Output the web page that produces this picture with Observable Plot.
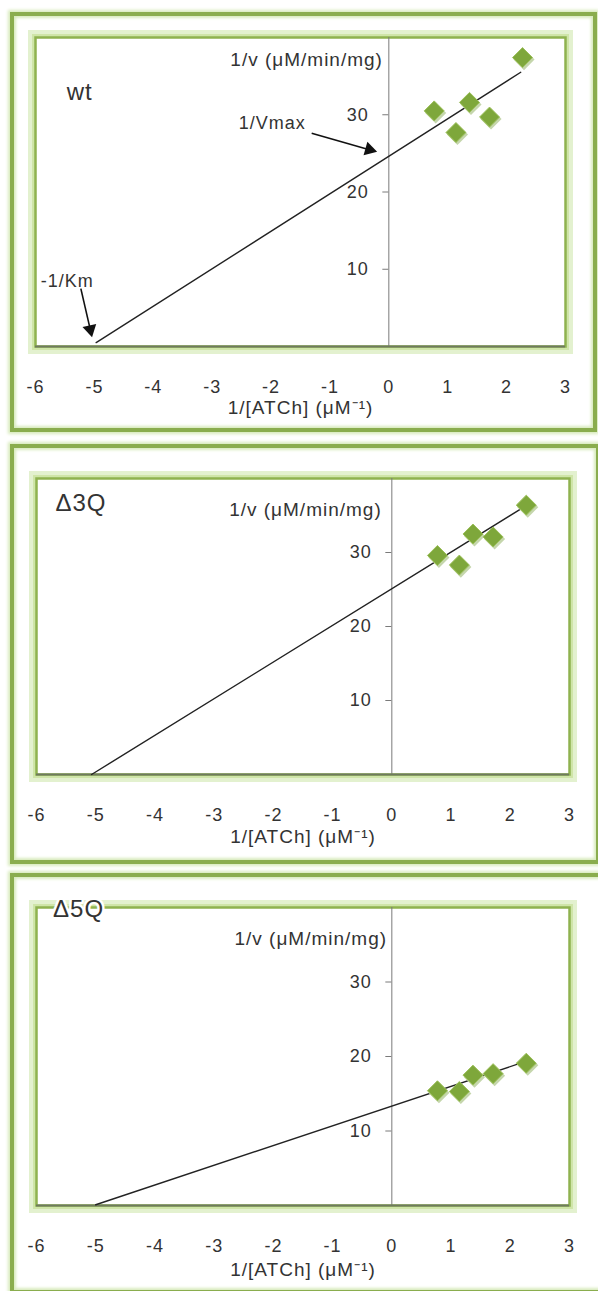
<!DOCTYPE html>
<html>
<head>
<meta charset="utf-8">
<script src="https://cdn.jsdelivr.net/npm/d3@7"></script>
<script src="https://cdn.jsdelivr.net/npm/@observablehq/plot@0.6"></script>
<style>
  body { margin: 0; width: 598px; height: 1291px; position: relative; overflow: hidden; background: #fff; }
  .frame { position: absolute; box-sizing: border-box; border: 4px solid #8aad4e;
           box-shadow: 0 0 3px 2px #d8ebbd, inset 0 0 3px 2px #d8ebbd; }
  .panel { position: absolute; left: 0; }
</style>
</head>
<body>
<div class="frame" style="left:10px;top:12px;width:587px;height:420px"></div>
<div class="frame" style="left:10px;top:444px;width:590px;height:420px"></div>
<div class="frame" style="left:10px;top:873px;width:600px;height:421px"></div>
<div id="p1" class="panel" style="top:0px"></div>
<div id="p2" class="panel" style="top:440px"></div>
<div id="p3" class="panel" style="top:870px"></div>
<script>
// ---- data ----
const xTicks = [-6, -5, -4, -3, -2, -1, 0, 1, 2, 3];
const yTicks = [10, 20, 30];
const invSubstrate = [0.77, 1.14, 1.37, 1.71, 2.27];        // 1/[ATCh]
const wtInvV  = [30.5, 27.7, 31.6, 29.7, 37.4];
const d3qInvV = [29.6, 28.3, 32.5, 32.1, 36.4];
const d5qInvV = [15.4, 15.3, 17.5, 17.7, 19.1];
const wtFitX  = [-4.97, 2.24], wtFitY  = [0.5, 35.5];
const d3qFitX = [-5.07, 2.18], d3qFitY = [0.0, 35.9];
const d5qFitX = [-5.00, 2.21], d5qFitY = [0.1, 19.2];
const panelNames = ["wt", "Δ3Q", "Δ5Q"];
const panelLabelX = [-5.25, -5.25, -5.29];
const panelLabelY = [32.9, 36.6, 39.7];
const yLabelX = [-0.10, -0.17, -0.08];
const yLabelY = [37.1, 35.7, 35.8];
const yTitle = "1/v (μM/min/mg)";
const xTitle = "1/[ATCh] (μM⁻¹)";
// annotations (wt panel)
const annText = ["1/Vmax", "-1/Km"];
const annX = [-1.98, -5.46], annY = [28.9, 8.5];
const arrX1 = [-1.31, -5.23], arrY1 = [27.6, 7.5];
const arrX2 = [-0.20, -5.04], arrY2 = [25.2, 1.2];

const font = "'Liberation Sans', Arial, sans-serif";

function makePanel(cfg) {
  const {height, mt, mb, ml, mr, ys, fitX, fitY, idx, titleDy, annotate} = cfg;
  const W = 598;
  const kx = (W - ml - mr) / 9, ky = (height - mt - mb) / 40;
  const pts = invSubstrate.map((x, i) => ({x, y: ys[i]}));
  const fit = fitX.map((x, i) => ({x, y: fitY[i]}));
  const marks = [
    Plot.frame({inset: -4, stroke: "#e3f1cf", strokeWidth: 7}),
    Plot.frame({inset: -2, stroke: "#cfe5a8", strokeWidth: 3}),
    Plot.frame({stroke: "#8fb24f", strokeWidth: 2.5}),
    Plot.ruleX([0], {stroke: "#7a7a7a", strokeWidth: 1}),
    Plot.ruleY([0], {stroke: "#6f7a5f", strokeWidth: 1.8}),
    Plot.ruleY(yTicks, {y: d => d, x1: 0, x2: 0, insetLeft: -6, stroke: "#7a7a7a"}),
    Plot.text(yTicks, {x: 0, y: d => d, text: d => String(d), textAnchor: "end", dx: -20, fill: "#333"}),
    Plot.text([yTitle], {x: yLabelX[idx], y: yLabelY[idx], text: d => d, textAnchor: "end", fontSize: 19, fill: "#333"}),
    Plot.text([panelNames[idx]], {x: panelLabelX[idx], y: panelLabelY[idx], text: d => d, fontSize: 24, fill: "#333", stroke: "white", strokeWidth: 5}),
    Plot.text([xTitle], {frameAnchor: "bottom", dy: titleDy, text: d => d, fontSize: 19, fill: "#333"}),
    Plot.line(fit, {x: "x", y: "y", stroke: "#222", strokeWidth: 1.4}),
    Plot.dot(pts, {x: "x", y: "y", symbol: "diamond2", r: 9.5, fill: "#c5d6ac", dx: 1.5, dy: 2}),
    Plot.dot(pts, {x: "x", y: "y", symbol: "diamond2", r: 9, fill: "#7ea73b", stroke: "#9cc05a", strokeWidth: 1})
  ];
  if (annotate) {
    const arrows = annText.map((t, i) => {
      const sx = (arrX2[i] - arrX1[i]) * kx, sy = -(arrY2[i] - arrY1[i]) * ky;
      const len = Math.hypot(sx, sy), ux = sx / len, uy = sy / len;
      const back = 8;
      return {
        x1: arrX1[i], y1: arrY1[i], x2: arrX2[i], y2: arrY2[i],
        hx: arrX2[i] - back * ux / kx, hy: arrY2[i] + back * uy / ky,
        rot: Math.atan2(sy, sx) * 180 / Math.PI + 90,
        label: t, lx: annX[i], ly: annY[i]
      };
    });
    marks.push(
      Plot.link(arrows, {x1: "x1", y1: "y1", x2: "hx", y2: "hy", stroke: "#111", strokeWidth: 1.6}),
      Plot.dot(arrows, {x: "hx", y: "hy", symbol: "triangle", r: 5.2, rotate: "rot", fill: "#111", stroke: "none"}),
      Plot.text(arrows, {x: "lx", y: "ly", text: "label", fill: "#333"})
    );
  }
  return Plot.plot({
    width: W, height,
    marginTop: mt, marginBottom: mb, marginLeft: ml, marginRight: mr,
    x: {domain: [-6, 3], ticks: xTicks, tickFormat: d => String(d), tickSize: 7, tickPadding: 27, label: null},
    y: {domain: [0, 40], axis: null},
    style: {background: "transparent", fontFamily: font, fontSize: "18px", letterSpacing: "1px", color: "#333", overflow: "visible"},
    marks
  });
}

document.getElementById("p1").append(makePanel({height: 432, mt: 37, mb: 86, ml: 35, mr: 33, ys: wtInvV, fitX: wtFitX, fitY: wtFitY, idx: 0, titleDy: 67, annotate: true}));
document.getElementById("p2").append(makePanel({height: 425, mt: 38, mb: 91, ml: 36, mr: 29, ys: d3qInvV, fitX: d3qFitX, fitY: d3qFitY, idx: 1, titleDy: 68, annotate: false}));
document.getElementById("p3").append(makePanel({height: 421, mt: 37, mb: 86, ml: 36, mr: 29, ys: d5qInvV, fitX: d5qFitX, fitY: d5qFitY, idx: 2, titleDy: 70, annotate: false}));
</script>
</body>
</html>
